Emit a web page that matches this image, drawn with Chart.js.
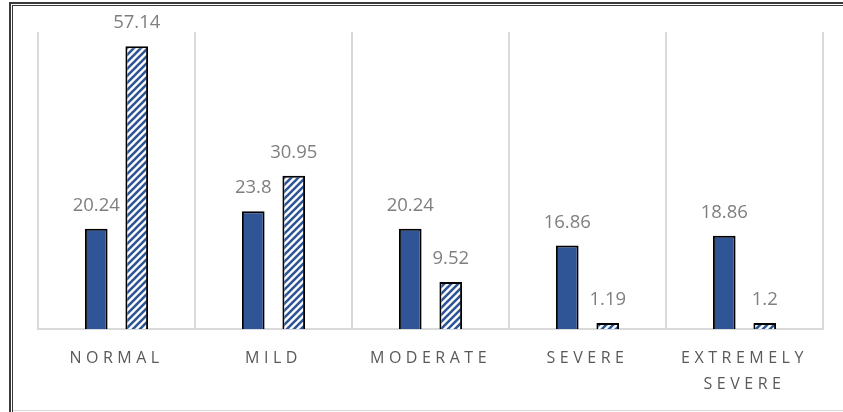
<!DOCTYPE html>
<html>
<head>
<meta charset="utf-8">
<script src="https://cdn.jsdelivr.net/npm/chart.js@4"></script>
<style>
html,body{margin:0;padding:0;background:#fff;}
#wrap{position:relative;width:843px;height:412px;}
</style>
</head>
<body>
<div id="wrap"><canvas id="c" width="843" height="412"></canvas></div>
<script>
const categories = ['NORMAL', 'MILD', 'MODERATE', 'SEVERE', ['EXTREMELY', 'SEVERE']];
const seriesSolid = [20.24, 23.8, 20.24, 16.86, 18.86];
const seriesHatched = [57.14, 30.95, 9.52, 1.19, 1.2];

const BLUE = '#2F5597';

function makeHatch() {
  const p = 7;
  const c = document.createElement('canvas');
  c.width = p; c.height = p;
  const x = c.getContext('2d');
  x.fillStyle = '#ffffff';
  x.fillRect(0, 0, p, p);
  x.strokeStyle = BLUE;
  x.lineWidth = 2.6;
  x.lineCap = 'square';
  x.beginPath();
  x.moveTo(-1, p + 1); x.lineTo(p + 1, -1);
  x.moveTo(-2, 2); x.lineTo(2, -2);
  x.moveTo(p - 2, p + 2); x.lineTo(p + 2, p - 2);
  x.stroke();
  return x.createPattern(c, 'repeat');
}

const spacingPlugin = {
  id: 'spacing',
  beforeDraw(chart) { chart.ctx.letterSpacing = '4.5px'; },
  beforeDatasetsDraw(chart) { chart.ctx.letterSpacing = '0px'; }
};

const valueLabels = {
  id: 'valueLabels',
  afterDatasetsDraw(chart) {
    const ctx = chart.ctx;
    ctx.save();
    ctx.letterSpacing = '0px';
    ctx.font = '18.5px "Open Sans", sans-serif';
    ctx.fillStyle = '#7f7f7f';
    ctx.textAlign = 'center';
    ctx.textBaseline = 'middle';
    chart.data.datasets.forEach((ds, di) => {
      const meta = chart.getDatasetMeta(di);
      meta.data.forEach((el, i) => {
        ctx.fillText(String(ds.data[i]), el.x, el.y - 23);
      });
    });
    ctx.restore();
  }
};

const frame = {
  id: 'frame',
  afterDraw(chart) {
    const ctx = chart.ctx;
    ctx.save();
    ctx.fillStyle = '#d9d9d9';
    ctx.fillRect(12, 410, 831, 1);
    ctx.fillStyle = '#3a3a3a';
    ctx.fillRect(9, 2, 2, 410);
    ctx.fillRect(12, 5, 1, 407);
    ctx.fillRect(9, 2, 834, 2);
    ctx.fillRect(12, 5, 831, 1);
    ctx.restore();
  }
};

new Chart(document.getElementById('c'), {
  type: 'bar',
  data: {
    labels: categories,
    datasets: [
      {
        data: seriesSolid,
        backgroundColor: BLUE,
        borderColor: '#000000',
        borderWidth: 2,
        categoryPercentage: 0.516,
        barPercentage: 0.56
      },
      {
        data: seriesHatched,
        backgroundColor: makeHatch(),
        borderColor: '#000000',
        borderWidth: 2,
        categoryPercentage: 0.516,
        barPercentage: 0.56
      }
    ]
  },
  options: {
    responsive: false,
    animation: false,
    layout: { padding: { left: 38, right: 20, top: 32, bottom: 0 } },
    plugins: { legend: { display: false }, tooltip: { enabled: false } },
    scales: {
      y: { display: false, min: 0, max: 60 },
      x: {
        afterFit(scale) { scale.height = 83; },
        grid: { display: true, color: '#d9d9d9', lineWidth: 2, drawTicks: false, offset: true },
        border: { display: true, color: '#d9d9d9', width: 2 },
        ticks: {
          color: '#595959',
          font: { family: '"Open Sans", sans-serif', size: 16, lineHeight: 26 / 16 },
          padding: 16,
          maxRotation: 0,
          autoSkip: false
        }
      }
    }
  },
  plugins: [spacingPlugin, valueLabels, frame]
});
</script>
</body>
</html>
